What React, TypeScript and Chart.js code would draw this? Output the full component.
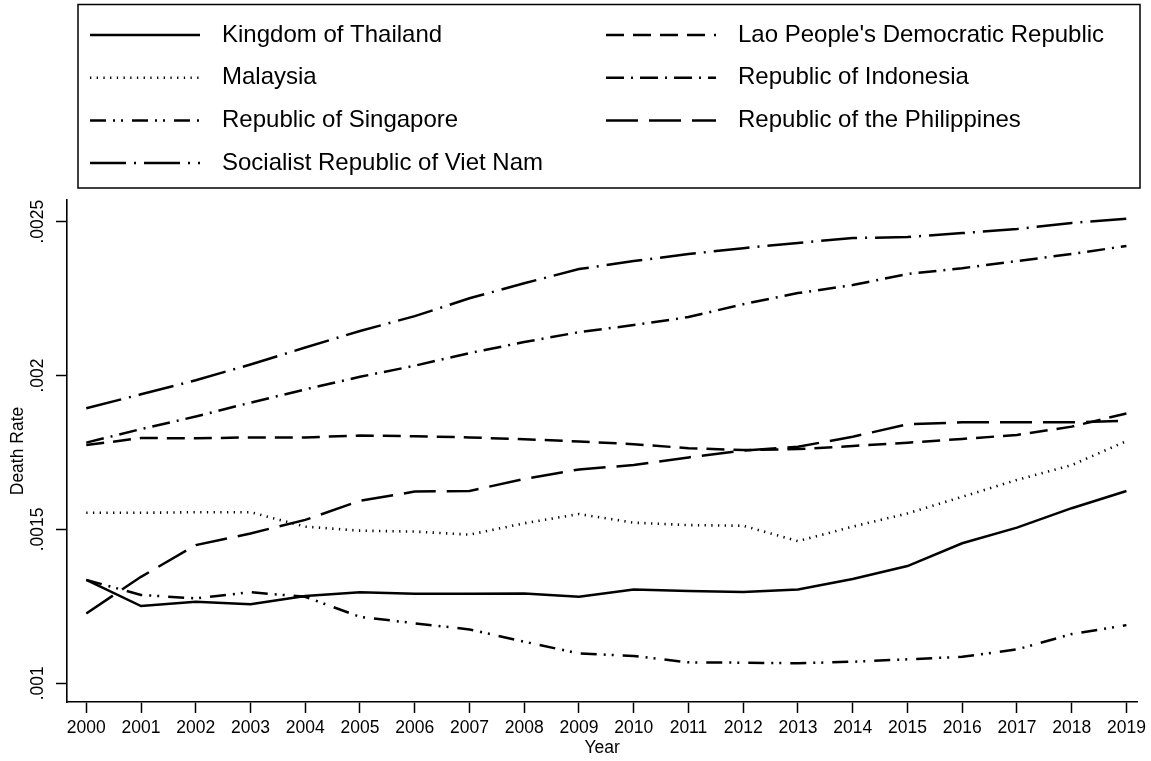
import React, { useEffect, useRef } from 'react';
import { Chart, registerables } from 'chart.js';

Chart.register(...registerables);

const years = [2000, 2001, 2002, 2003, 2004, 2005, 2006, 2007, 2008, 2009, 2010, 2011, 2012, 2013, 2014, 2015, 2016, 2017, 2018, 2019];

const thailand = [0.001336, 0.001251, 0.001265, 0.001257, 0.001284, 0.001296, 0.001291, 0.001291, 0.001292, 0.001281, 0.001305, 0.0013, 0.001297, 0.001305, 0.001339, 0.001381, 0.001455, 0.001506, 0.001569, 0.001625];
const lao = [0.001774, 0.001797, 0.001796, 0.001799, 0.001799, 0.001805, 0.001803, 0.001799, 0.001793, 0.001786, 0.001777, 0.001764, 0.001758, 0.001761, 0.001771, 0.001782, 0.001794, 0.001807, 0.001834, 0.001877];
const malaysia = [0.001554, 0.001554, 0.001556, 0.001556, 0.001509, 0.001496, 0.001493, 0.001483, 0.00152, 0.00155, 0.001522, 0.001514, 0.001512, 0.001462, 0.001509, 0.001552, 0.001606, 0.001661, 0.001709, 0.001787];
const indonesia = [0.001782, 0.001826, 0.001867, 0.001912, 0.001955, 0.001996, 0.002032, 0.002073, 0.002109, 0.002141, 0.002164, 0.00219, 0.002232, 0.002268, 0.002294, 0.00233, 0.002349, 0.002372, 0.002395, 0.002421];
const singapore = [0.001336, 0.001287, 0.001276, 0.001296, 0.001281, 0.001216, 0.001195, 0.001175, 0.001135, 0.001097, 0.001089, 0.001068, 0.001067, 0.001065, 0.00107, 0.001078, 0.001086, 0.00111, 0.00116, 0.001189];
const philippines = [0.001227, 0.001346, 0.001449, 0.001487, 0.001531, 0.001593, 0.001623, 0.001625, 0.001664, 0.001695, 0.001709, 0.001734, 0.001756, 0.001769, 0.001801, 0.001842, 0.001848, 0.001848, 0.001848, 0.001853];
const vietnam = [0.001894, 0.001939, 0.001985, 0.002036, 0.002091, 0.002145, 0.002193, 0.002251, 0.0023, 0.002346, 0.002372, 0.002395, 0.002414, 0.002431, 0.002447, 0.00245, 0.002463, 0.002476, 0.002496, 0.00251];

const seriesNames = [
  'Kingdom of Thailand',
  "Lao People's Democratic Republic",
  'Malaysia',
  'Republic of Indonesia',
  'Republic of Singapore',
  'Republic of the Philippines',
  'Socialist Republic of Viet Nam',
];

const yTickValues = [0.001, 0.0015, 0.002, 0.0025];
const yTickLabels = ['.001', '.0015', '.002', '.0025'];

const FONT = '"Liberation Sans", Arial, Helvetica, sans-serif';

const legendPlugin = {
  id: 'stataLegend',
  afterDraw(chart: any) {
    const ctx = chart.ctx as CanvasRenderingContext2D;
    ctx.save();
    ctx.setLineDash([]);
    ctx.lineWidth = 1.5;
    ctx.strokeStyle = '#000';
    ctx.strokeRect(78, 4.5, 1062, 183.5);
    ctx.font = `24px ${FONT}`;
    ctx.fillStyle = '#000';
    ctx.textBaseline = 'middle';
    ctx.textAlign = 'left';
    chart.data.datasets.forEach((ds: any, i: number) => {
      const col = i % 2;
      const row = Math.floor(i / 2);
      const y = 35 + row * 42.7;
      const x0 = col === 0 ? 90 : 606;
      ctx.lineWidth = ds.borderWidth;
      ctx.lineCap = 'butt';
      ctx.setLineDash(ds.borderDash || []);
      ctx.beginPath();
      ctx.moveTo(x0, y);
      ctx.lineTo(x0 + 110, y);
      ctx.stroke();
      ctx.setLineDash([]);
      ctx.fillText(ds.label, x0 + 132, y);
    });
    ctx.restore();
  },
};

export default function App() {
  const ref = useRef<HTMLCanvasElement>(null);

  useEffect(() => {
    if (!ref.current) return;
    Chart.defaults.font.family = FONT;
    const mk = (label: string, values: number[], dash: number[], width = 2.5) => ({
      label,
      data: years.map((yr, i) => ({ x: yr, y: values[i] })),
      borderColor: '#000',
      backgroundColor: '#000',
      borderWidth: width,
      borderDash: dash,
      pointRadius: 0,
      tension: 0,
      fill: false,
    });
    const chart = new Chart(ref.current, {
      type: 'line',
      data: {
        datasets: [
          mk(seriesNames[0], thailand, []),
          mk(seriesNames[1], lao, [18, 9]),
          mk(seriesNames[2], malaysia, [1.3, 5.4], 2.6),
          mk(seriesNames[3], indonesia, [18, 7, 2, 7]),
          mk(seriesNames[4], singapore, [16, 7, 2, 6, 2, 9]),
          mk(seriesNames[5], philippines, [32, 11]),
          mk(seriesNames[6], vietnam, [36, 8, 2, 8]),
        ] as any,
      },
      options: {
        animation: false,
        responsive: false,
        maintainAspectRatio: false,
        layout: { padding: { top: 200, right: 11, left: 0, bottom: 0 } },
        plugins: { legend: { display: false }, tooltip: { enabled: false } },
        scales: {
          x: {
            type: 'linear',
            min: 1999.648,
            max: 2019.2,
            afterBuildTicks: (s: any) => {
              s.ticks = years.map((v) => ({ value: v }));
            },
            afterFit: (s: any) => {
              s.height = 59;
            },
            ticks: {
              callback: (v: any) => String(v),
              color: '#000',
              font: { size: 17.5 },
              padding: 5,
              autoSkip: false,
              maxRotation: 0,
              minRotation: 0,
            },
            grid: { drawOnChartArea: false, drawTicks: true, tickLength: 11, tickWidth: 1.5, tickColor: '#000' },
            border: { display: true, color: '#000', width: 1.6 },
            title: { display: true, text: 'Year', color: '#000', font: { size: 17.5 }, padding: { top: 0, bottom: 2 } },
          },
          y: {
            type: 'linear',
            min: 0.0009392,
            max: 0.0025705,
            afterBuildTicks: (s: any) => {
              s.ticks = yTickValues.map((v) => ({ value: v }));
            },
            afterFit: (s: any) => {
              s.width = 67;
            },
            ticks: {
              callback: (_v: any, i: number) => yTickLabels[i],
              color: '#000',
              font: { size: 17.5 },
              padding: -4,
              crossAlign: 'center',
              minRotation: 90,
              maxRotation: 90,
              autoSkip: false,
            },
            grid: { drawOnChartArea: false, drawTicks: true, tickLength: 11, tickWidth: 1.5, tickColor: '#000' },
            border: { display: true, color: '#000', width: 1.6 },
            title: { display: true, text: 'Death Rate', color: '#000', font: { size: 17.5 }, padding: { top: 8, bottom: 0 } },
          },
        },
      } as any,
      plugins: [legendPlugin],
    });
    return () => chart.destroy();
  }, []);

  return (
    <div style={{ position: 'fixed', left: 0, top: 0, width: 1151, height: 761, background: '#fff' }}>
      <canvas ref={ref} width={1151} height={761} style={{ width: 1151, height: 761, display: 'block' }} />
    </div>
  );
}
